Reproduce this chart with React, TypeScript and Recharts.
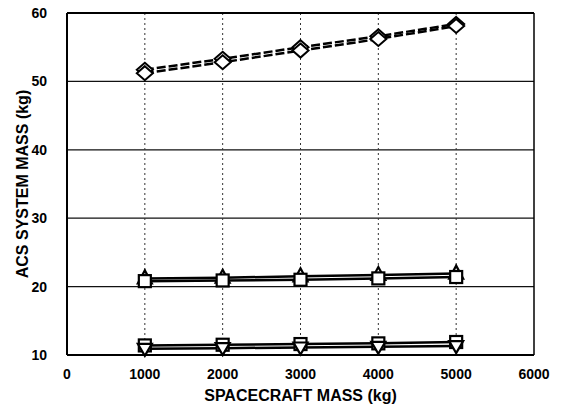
import React from "react";
import { LineChart, Line, XAxis, YAxis, ReferenceLine } from "recharts";

const spacecraftMass = [1000, 2000, 3000, 4000, 5000];
const topUpper = [51.7, 53.3, 55.0, 56.6, 58.4];
const topLower = [51.2, 52.8, 54.5, 56.2, 58.1];
const midUpper = [21.2, 21.3, 21.5, 21.7, 21.9];
const midLower = [20.8, 20.9, 21.0, 21.2, 21.4];
const lowUpper = [11.4, 11.5, 11.6, 11.7, 11.9];
const lowLower = [10.9, 11.0, 11.1, 11.2, 11.3];
const xTicks = [0, 1000, 2000, 3000, 4000, 5000, 6000];
const yTicks = [10, 20, 30, 40, 50, 60];
const hGrid = [20, 30, 40, 50];
const vGrid = [1000, 2000, 3000, 4000, 5000];

const data = spacecraftMass.map((m, i) => ({
  m,
  tu: topUpper[i],
  tl: topLower[i],
  mu: midUpper[i],
  ml: midLower[i],
  lu: lowUpper[i],
  ll: lowLower[i],
}));

const Marker = (kind: string) => (props: any) => {
  const { cx, cy } = props;
  if (cx == null || cy == null) return null;
  const s = 6;
  if (kind === "diamond") {
    return (
      <path
        d={`M${cx},${cy - 7} L${cx + 8},${cy} L${cx},${cy + 7} L${cx - 8},${cy} Z`}
        fill="#fff"
        stroke="#000"
        strokeWidth={2}
      />
    );
  }
  if (kind === "triangle") {
    return (
      <path
        d={`M${cx},${cy - 8} L${cx + 7},${cy + 5} L${cx - 7},${cy + 5} Z`}
        fill="#fff"
        stroke="#000"
        strokeWidth={2.2}
      />
    );
  }
  if (kind === "square") {
    return (
      <rect x={cx - s} y={cy - s} width={2 * s} height={2 * s} fill="#fff" stroke="#000" strokeWidth={2.2} />
    );
  }
  return (
    <path
      d={`M${cx},${cy + 7} L${cx + 7},${cy - 5} L${cx - 7},${cy - 5} Z`}
      fill="#fff"
      stroke="#000"
      strokeWidth={2.2}
    />
  );
};

const font = "'Liberation Sans', Arial, sans-serif";

export default function App() {
  return (
    <div style={{ position: "absolute", left: 0, top: 0, background: "#fff" }}>
      <LineChart width={567} height={410} data={data} margin={{ top: 13, right: 33, bottom: 8, left: 0 }}>
        {hGrid.map((v) => (
          <ReferenceLine key={"h" + v} y={v} stroke="#111" strokeWidth={1.3} />
        ))}
        {vGrid.map((v) => (
          <ReferenceLine key={"v" + v} x={v} stroke="#333" strokeWidth={1} strokeDasharray="2 3" />
        ))}
        <ReferenceLine y={60} stroke="#000" strokeWidth={2} />
        <ReferenceLine x={6000} stroke="#000" strokeWidth={1.5} />
        <XAxis
          dataKey="m"
          type="number"
          domain={[0, 6000]}
          ticks={xTicks}
          height={47}
          tickLine={false}
          axisLine={{ stroke: "#000", strokeWidth: 2 }}
          tick={{ fill: "#000", fontSize: 14, fontFamily: font, fontWeight: 600 }}
          tickMargin={8}
          label={{
            value: "SPACECRAFT MASS (kg)",
            position: "insideBottom",
            offset: 1,
            fill: "#000",
            fontSize: 16,
            fontFamily: font,
            fontWeight: 600,
          }}
        />
        <YAxis
          type="number"
          domain={[10, 60]}
          ticks={yTicks}
          width={67}
          tickLine={false}
          axisLine={{ stroke: "#000", strokeWidth: 2 }}
          tick={{ fill: "#000", fontSize: 14, fontFamily: font, fontWeight: 600 }}
          tickMargin={14}
          label={{
            value: "ACS SYSTEM MASS (kg)",
            angle: -90,
            position: "insideLeft",
            offset: 22,
            style: { textAnchor: "middle" },
            fill: "#000",
            fontSize: 16,
            fontFamily: font,
            fontWeight: 600,
          }}
        />
        <Line dataKey="tu" stroke="#000" strokeWidth={2.5} strokeDasharray="9 3" dot={Marker("diamond")} isAnimationActive={false} />
        <Line dataKey="tl" stroke="#000" strokeWidth={2.5} strokeDasharray="9 3" dot={Marker("diamond")} isAnimationActive={false} />
        <Line dataKey="mu" stroke="#000" strokeWidth={2.5} dot={Marker("triangle")} isAnimationActive={false} />
        <Line dataKey="ml" stroke="#000" strokeWidth={2.5} dot={Marker("square")} isAnimationActive={false} />
        <Line dataKey="lu" stroke="#000" strokeWidth={2.5} dot={Marker("square")} isAnimationActive={false} />
        <Line dataKey="ll" stroke="#000" strokeWidth={2.5} dot={Marker("invtri")} isAnimationActive={false} />
      </LineChart>
    </div>
  );
}
